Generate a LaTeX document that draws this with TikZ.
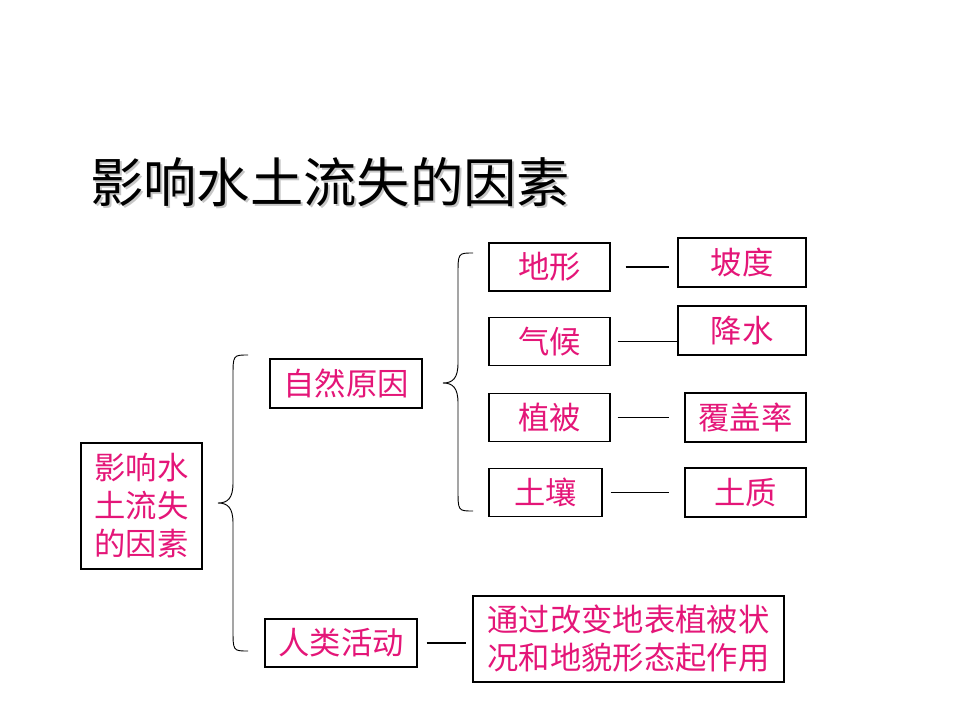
\documentclass[tikz,border=0pt]{standalone}
\usepackage{fontspec}
\setmainfont{Noto Sans CJK SC}
\usepackage{tikz}
\definecolor{rosetext}{RGB}{228,22,120}

\begin{document}
\begin{tikzpicture}[x=0.75pt, y=-0.75pt,
    factor/.style={draw, line width=1pt, inner sep=0pt, text=rosetext,
      font=\fontsize{23.5}{28.5}\selectfont, align=center},
    link/.style={line width=0.8pt},
    curly/.style={line width=0.7pt}]
  \useasboundingbox (0,0) rectangle (960,720);
  % title and its shadow
  \node[text=gray!45, font=\fontsize{40}{46}\selectfont] (titleshade) at (332,184) {影响水土流失的因素};
  \node[font=\fontsize{40}{46}\selectfont] (title) at (330,182) {影响水土流失的因素};

  \node[factor, minimum width=90.75pt, minimum height=94.5pt] (root) at (141.5,506) {影响水\\土流失\\的因素};
  \node[factor, minimum width=114pt, minimum height=36.75pt] (natural) at (346,383.5) {自然原因};
  \node[factor, minimum width=114pt, minimum height=36pt] (human) at (341,643) {人类活动};

  \node[factor, minimum width=90.75pt, minimum height=36pt] (terrain) at (549.5,267) {地形};
  \node[factor, minimum width=90.75pt, minimum height=36pt] (climate) at (549.5,341.5) {气候};
  \node[factor, minimum width=90.75pt, minimum height=36pt] (plants) at (549.5,417.5) {植被};
  \node[factor, minimum width=84.75pt, minimum height=36pt] (soil) at (545.5,492.5) {土壤};

  \node[factor, minimum width=96pt, minimum height=36.75pt] (slope) at (742,262.5) {坡度};
  \node[factor, minimum width=96pt, minimum height=36.75pt] (rain) at (742,330.5) {降水};
  \node[factor, minimum width=90.75pt, minimum height=36.75pt] (cover) at (745.5,417.5) {覆盖率};
  \node[factor, minimum width=90.75pt, minimum height=36.75pt] (texture) at (745.5,492.5) {土质};
  \node[factor, minimum width=233.25pt, minimum height=64.5pt] (effect) at (628.5,639) {通过改变地表植被状\\况和地貌形态起作用};

  % braces
  \foreach \ex/\yt/\ym/\yb in {248/355/503/651, 473/253/383/511} {
    \pgfmathsetmacro\vx{\ex - 15};
    \pgfmathsetmacro\tx{\ex - 30};
    \draw[curly] (\ex,\yt) .. controls (\vx,\yt) .. (\vx,\yt+22) -- (\vx,\ym-20)
      .. controls (\vx,\ym-5) and (\vx-5,\ym) .. (\tx,\ym)
      .. controls (\vx-5,\ym) and (\vx,\ym+5) .. (\vx,\ym+20) -- (\vx,\yb-22)
      .. controls (\vx,\yb) .. (\ex,\yb);
  }

  % links
  \draw[link, shorten <=11.25pt, shorten >=6pt] (terrain.east) -- (terrain.east -| slope.west);
  \draw[link, shorten <=5.25pt] (climate.east) -- (climate.east -| rain.west);
  \draw[link, shorten <=5.25pt, shorten >=11.25pt] (plants.east) -- (plants.east -| cover.west);
  \draw[link, shorten <=6pt, shorten >=11.25pt] (soil.east) -- (soil.east -| texture.west);
  \draw[link, shorten <=6.75pt, shorten >=4.5pt] (human.east) -- (human.east -| effect.west);
\end{tikzpicture}
\end{document}
